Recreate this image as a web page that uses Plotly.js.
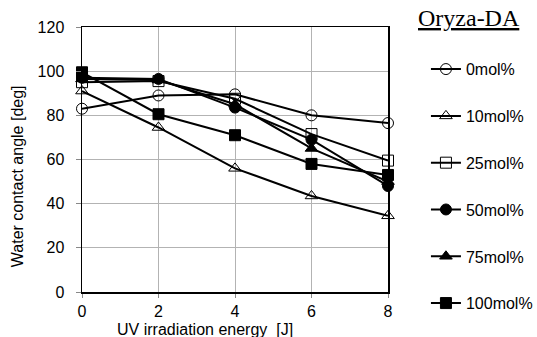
<!DOCTYPE html>
<html>
<head>
<meta charset="utf-8">
<script src="https://cdn.plot.ly/plotly-3.0.1.min.js"></script>
<style>html,body{margin:0;padding:0;background:#fff;}#chart{width:537px;height:337px;}</style>
</head>
<body>
<div id="chart"></div>
<script>
var energy = [0, 2, 4, 6, 8];
var seriesNames = ['0mol%', '10mol%', '25mol%', '50mol%', '75mol%', '100mol%'];
var mol0 = [83, 89, 89.5, 80, 76.5];
var mol10 = [91, 74.5, 56, 43.5, 34.5];
var mol25 = [95, 95.5, 87.5, 71.5, 59.5];
var mol50 = [97, 96.5, 83.5, 69, 48];
var mol75 = [96.5, 96, 85, 65, 50];
var mol100 = [99.5, 80.5, 71, 58, 53];
var seriesValues = [mol0, mol10, mol25, mol50, mol75, mol100];
var symbols = ['circle-open', 'triangle-up-open', 'square-open', 'circle', 'triangle-up', 'square'];
var xTicks = [0, 2, 4, 6, 8];
var yTicks = [0, 20, 40, 60, 80, 100, 120];

var traces = seriesNames.map(function (name, i) {
  return {
    x: energy, y: seriesValues[i], name: name, type: 'scatter', mode: 'lines+markers',
    legendgroup: 'g' + i, cliponaxis: false,
    line: {color: '#000', width: 2},
    marker: {symbol: symbols[i], size: 11, color: '#000', line: {color: '#000', width: 1}}
  };
});

var layout = {
  width: 537, height: 337,
  margin: {l: 82, r: 149, t: 27, b: 45, autoexpand: false},
  paper_bgcolor: '#fff', plot_bgcolor: '#fff',
  font: {family: 'Liberation Sans, Arial, sans-serif', color: '#000', size: 16},
  showlegend: true,
  legend: {x: 1.124, xanchor: 'left', y: 0.905, yanchor: 'top', traceorder: 'grouped', tracegroupgap: 23,
    font: {size: 16, family: 'Liberation Sans, Arial, sans-serif'}, bgcolor: 'rgba(0,0,0,0)'},
  xaxis: {range: [0, 8], tickvals: xTicks, showgrid: true, gridcolor: '#b3b3b3', gridwidth: 1,
    zeroline: false, showline: true, linecolor: '#000', linewidth: 1.5, mirror: true,
    ticks: 'outside', ticklen: 4, tickcolor: '#888', tickfont: {size: 16}, fixedrange: true},
  yaxis: {range: [0, 120], tickvals: yTicks, showgrid: true, gridcolor: '#b3b3b3', gridwidth: 1,
    zeroline: false, showline: true, linecolor: '#000', linewidth: 1.5, mirror: true,
    ticks: 'outside', ticklen: 5, tickcolor: '#888', tickfont: {size: 16}, ticklabelstandoff: 8, fixedrange: true},
  annotations: [
    {text: 'UV irradiation energy  [J]', xref: 'paper', yref: 'paper', x: 0.402, y: -0.143,
     xanchor: 'center', yanchor: 'middle', showarrow: false, font: {size: 16}},
    {text: 'Water contact angle [deg]', xref: 'paper', yref: 'paper', x: -0.21, y: 0.436,
     xanchor: 'center', yanchor: 'middle', textangle: -90, showarrow: false, font: {size: 16}},
    {text: '<u>Oryza-DA</u>', xref: 'paper', yref: 'paper', x: 1.093, y: 1.035,
     xanchor: 'left', yanchor: 'middle', showarrow: false,
     font: {size: 24, family: 'Liberation Serif, Times New Roman, serif'}}
  ]
};

Plotly.newPlot('chart', traces, layout, {displayModeBar: false, staticPlot: true});
</script>
</body>
</html>
